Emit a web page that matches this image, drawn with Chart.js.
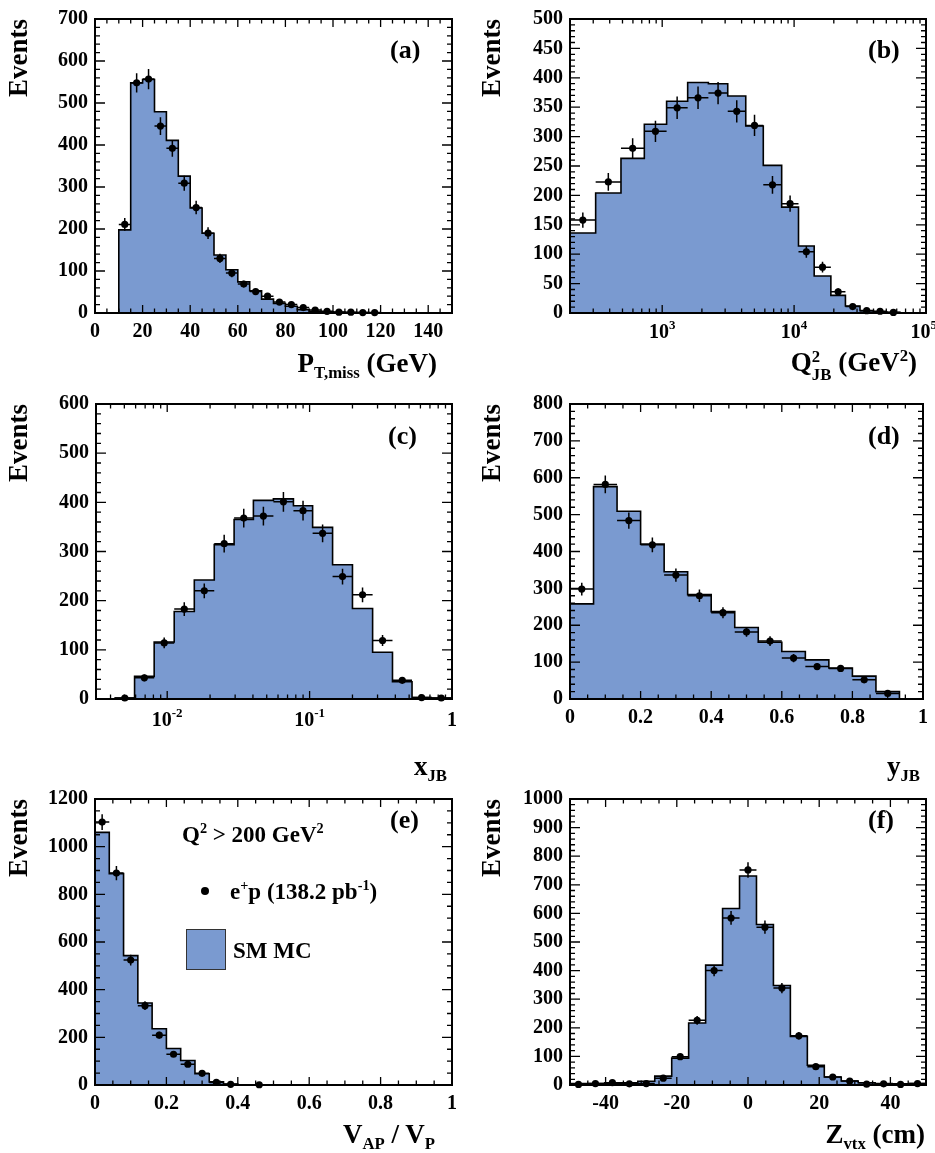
<!DOCTYPE html>
<html lang="en">
<head>
<meta charset="UTF-8">
<title>Control distributions</title>
<script src="https://cdn.jsdelivr.net/npm/chart.js@4.4.0/dist/chart.umd.min.js"></script>
<style>
  body { margin: 0; background: #fff; }
  #page { position: relative; width: 935px; height: 1153px; overflow: hidden;
          font-family: 'Liberation Serif', 'Times New Roman', serif; font-weight: bold; color: #000; }
  canvas { position: absolute; }
  .t { position: absolute; white-space: nowrap; line-height: 1; font-size: 27px; }
  .lab { position: absolute; white-space: nowrap; line-height: 1; font-size: 26px; }
  .t sub, .lab sub { font-size: 0.62em; line-height: 0; vertical-align: -0.35em; }
  .t sup, .lab sup { font-size: 0.62em; line-height: 0; vertical-align: 0.6em; }
  .ss { display: inline-block; vertical-align: -0.5em; font-size: 0.62em; line-height: 1.05; }
  .ss span { display: block; }
</style>
</head>
<body>
<div id="page">
  <canvas id="ca" width="467" height="385" style="left:0;top:0"></canvas>
  <canvas id="cb" width="468" height="385" style="left:467px;top:0"></canvas>
  <canvas id="cc" width="467" height="395" style="left:0;top:385px"></canvas>
  <canvas id="cd" width="468" height="395" style="left:467px;top:385px"></canvas>
  <canvas id="ce" width="467" height="373" style="left:0;top:780px"></canvas>
  <canvas id="cf" width="468" height="373" style="left:467px;top:780px"></canvas>

  <div class="t" style="right:498px;top:350px">P<sub>T,miss</sub> (GeV)</div>
  <div class="t" style="right:18px;top:348px">Q<span class="ss"><span>2</span><span>JB</span></span> (GeV<sup>2</sup>)</div>
  <div class="t" style="right:488px;top:753px">x<sub>JB</sub></div>
  <div class="t" style="right:15px;top:753px">y<sub>JB</sub></div>
  <div class="t" style="right:500px;top:1121px">V<sub>AP</sub> / V<sub>P</sub></div>
  <div class="t" style="right:10px;top:1121px">Z<sub>vtx</sub> (cm)</div>

  <div class="lab" style="left:390px;top:37px">(a)</div>
  <div class="lab" style="left:868px;top:37px">(b)</div>
  <div class="lab" style="left:388px;top:423px">(c)</div>
  <div class="lab" style="left:868px;top:423px">(d)</div>
  <div class="lab" style="left:390px;top:807px">(e)</div>
  <div class="lab" style="left:868px;top:807px">(f)</div>

  <div class="lab" style="left:182px;top:823px;font-size:23px">Q<sup>2</sup> &gt; 200 GeV<sup>2</sup></div>
  <div style="position:absolute;left:201px;top:887px;width:8px;height:8px;border-radius:50%;background:#000"></div>
  <div class="lab" style="left:230px;top:880px;font-size:23px">e<sup>+</sup>p (138.2 pb<sup>-1</sup>)</div>
  <div style="position:absolute;left:186px;top:929px;width:38px;height:39px;background:#7a9ad0;border:1px solid #333"></div>
  <div class="lab" style="left:233px;top:939px;font-size:23px">SM MC</div>
</div>
<script>
// (a) missing transverse momentum, GeV
var ptEdges = [10,15,20,25,30,35,40,45,50,55,60,65,70,75,80,85,90,95,100,105,110,115,120];
var ptMC    = [198,548,556,479,411,326,250,190,138,103,74,53,33,23,16,8,4,3,2,1,1,0.5];
var ptData  = [211,548,557,445,392,309,251,190,130,95,69,51,40,26,20,13,7,4,2,2,1,1];
var ptErr   = [15,23,24,21,20,18,16,14,11,10,8,7,6,5,4,4,3,2,1,1,1,1];

// (b) Q2_JB, GeV^2
var q2Edges = [200,313,487,732,1080,1560,2240,3140,4300,5840,8050,10800,14200,19000,24500,31600,39900,50400,63500];
var q2MC    = [136,204,263,321,360,392,390,369,318,251,180,114,63,30,12,4,2,1];
var q2Data  = [158,223,280,309,349,366,374,343,319,218,186,104,78,36,11,4,3,1];
var q2Err   = [13,15,17,18,19,19,19,19,18,15,14,10,9,6,3,2,2,1];

// (c) x_JB
var xEdges = [0.0043,0.0059,0.0081,0.0112,0.0155,0.0214,0.0295,0.0403,0.0557,0.077,0.105,0.145,0.2,0.277,0.382,0.524,0.714,0.99];
var xMC    = [2,46,116,178,242,314,365,404,407,393,349,273,184,95,35,3,2];
var xData  = [2,43,114,183,220,316,368,372,401,383,337,249,212,119,38,3,2];
var xErr   = [1,7,11,14,15,18,19,19,20,20,18,16,15,11,6,2,1];

// (d) y_JB
var yEdges = [0,0.0667,0.1333,0.2,0.2667,0.3333,0.4,0.4667,0.5333,0.6,0.6667,0.7333,0.8,0.8667,0.9333];
var yMC    = [258,576,509,420,345,283,237,194,154,129,106,84,62,20];
var yData  = [298,582,484,418,336,280,234,182,157,111,88,83,52,15];
var yErr   = [17,24,22,20,18,17,15,13,13,11,9,9,7,4];

// (e) V_AP / V_P
var vEdges = [0,0.04,0.08,0.12,0.16,0.2,0.24,0.28,0.32,0.36,0.4,0.44,0.48];
var vMC    = [1060,887,543,344,236,153,103,47,13,4,0,0];
var vData  = [1103,889,524,333,209,129,87,49,11,3,null,1];
var vErr   = [33,30,23,18,14,11,9,7,3,2,null,1];

// (f) Z_vtx, cm
var zEdges = [-50,-45.24,-40.48,-35.71,-30.95,-26.19,-21.43,-16.67,-11.9,-7.14,-2.38,2.38,7.14,11.9,16.67,21.43,26.19,30.95,35.71,40.48,45.24,50];
var zMC    = [5,5,5,8,13,31,94,217,419,617,731,561,348,170,69,28,14,8,5,4,5];
var zData  = [2,5,8,4,5,24,99,226,400,584,752,552,339,172,64,28,14,3,4,2,5];
var zErr   = [1,2,3,2,2,5,10,15,20,24,27,23,18,13,8,5,4,2,2,1,2];

var FILL = '#7a9ad0';
var FONT = "'Liberation Serif', 'Times New Roman', serif";

// histogram outline as a stepped line
function histLine(edges, vals) {
  var pts = [{x: edges[0], y: 0}];
  for (var i = 0; i < vals.length; i++) pts.push({x: edges[i], y: vals[i]});
  pts.push({x: edges[vals.length], y: 0});
  return pts;
}

function dataPts(edges, vals, errs, logx) {
  var pts = [];
  for (var i = 0; i < vals.length; i++) {
    if (vals[i] == null) continue;
    var lo = edges[i], hi = edges[i + 1];
    var c = logx ? Math.sqrt(lo * hi) : (lo + hi) / 2;
    pts.push({x: c, y: vals[i], lo: lo, hi: hi, e: errs[i]});
  }
  return pts;
}

function onStep(v, step) {
  var q = v / step;
  return Math.abs(q - Math.round(q)) < 1e-6;
}

// ROOT-ish frame: ticks inside on all four sides, error bars, log labels
var rootFrame = {
  id: 'rootFrame',
  beforeDatasetDraw: function(chart, args) {
    if (args.index !== 0) return;
    var ctx = chart.ctx, sx = chart.scales.x, sy = chart.scales.y;
    ctx.save();
    ctx.strokeStyle = '#000';
    ctx.lineWidth = 1.5;
    ctx.beginPath();
    chart.data.datasets[0].data.forEach(function(p) {
      var px = sx.getPixelForValue(p.x), py = sy.getPixelForValue(p.y);
      ctx.moveTo(sx.getPixelForValue(p.lo), py);
      ctx.lineTo(sx.getPixelForValue(p.hi), py);
      ctx.moveTo(px, sy.getPixelForValue(Math.max(0, p.y - p.e)));
      ctx.lineTo(px, sy.getPixelForValue(p.y + p.e));
    });
    ctx.stroke();
    ctx.restore();
  },
  afterDraw: function(chart, args, o) {
    var ctx = chart.ctx, a = chart.chartArea, sx = chart.scales.x, sy = chart.scales.y;
    ctx.save();
    ctx.strokeStyle = '#000';
    ctx.lineWidth = 1.3;
    ctx.beginPath();
    function xt(v, major) {
      var px = sx.getPixelForValue(v), len = major ? 8 : 4.5;
      ctx.moveTo(px, a.bottom); ctx.lineTo(px, a.bottom - len);
      ctx.moveTo(px, a.top); ctx.lineTo(px, a.top + len);
    }
    if (o.logx) {
      var n0 = Math.floor(Math.log10(sx.min)), n1 = Math.ceil(Math.log10(sx.max));
      for (var n = n0; n <= n1; n++) {
        for (var k = 1; k < 10; k++) {
          var v = k * Math.pow(10, n);
          if (v < sx.min * 0.999 || v > sx.max * 1.001) continue;
          xt(v, k === 1);
        }
      }
    } else {
      var s = Math.ceil(sx.min / o.xMin - 1e-9);
      for (var i = s; i * o.xMin <= sx.max + 1e-9; i++) {
        xt(i * o.xMin, onStep(i * o.xMin, o.xMaj));
      }
    }
    for (var j = 0; j * o.yMin <= sy.max + 1e-9; j++) {
      var vy = j * o.yMin;
      var py = sy.getPixelForValue(vy), len = onStep(vy, o.yMaj) ? 10 : 5;
      ctx.moveTo(a.left, py); ctx.lineTo(a.left + len, py);
      ctx.moveTo(a.right, py); ctx.lineTo(a.right - len, py);
    }
    ctx.stroke();
    ctx.lineWidth = 2;
    ctx.strokeRect(a.left, a.top, a.right - a.left, a.bottom - a.top);

    if (o.logx) {
      ctx.fillStyle = '#000';
      ctx.textBaseline = 'alphabetic';
      var base = a.bottom + o.labelDy;
      for (var m = Math.ceil(Math.log10(sx.min)); m <= Math.floor(Math.log10(sx.max) + 1e-9); m++) {
        var lx = sx.getPixelForValue(Math.pow(10, m));
        ctx.font = 'bold 20px ' + FONT;
        if (m === 0) {
          ctx.textAlign = 'center';
          ctx.fillText('1', lx, base);
          continue;
        }
        ctx.textAlign = 'left';
        var w1 = ctx.measureText('10').width;
        ctx.font = 'bold 13px ' + FONT;
        var ex = String(m), w2 = ctx.measureText(ex).width;
        var x0 = Math.min(lx - (w1 + w2) / 2, chart.width - w1 - w2 + 2);
        ctx.fillText(ex, x0 + w1, base - 9);
        ctx.font = 'bold 20px ' + FONT;
        ctx.fillText('10', x0, base);
      }
    }
    ctx.restore();
  }
};
Chart.register(rootFrame);

function panel(id, c) {
  var tickFont = {family: FONT, size: 20, weight: 'bold'};
  return new Chart(document.getElementById(id), {
    type: 'line',
    data: {
      datasets: [{
        data: dataPts(c.edges, c.data, c.err, c.logx),
        showLine: false,
        pointRadius: 3.6,
        pointBackgroundColor: '#000',
        pointBorderWidth: 0,
        clip: false
      }, {
        data: histLine(c.edges, c.mc),
        stepped: true,
        fill: 'origin',
        backgroundColor: FILL,
        borderColor: '#000',
        borderWidth: 1.6,
        pointRadius: 0
      }]
    },
    options: {
      responsive: false,
      animation: false,
      events: [],
      layout: {padding: {left: 0, right: c.rp, top: c.tp, bottom: 0}},
      plugins: {
        legend: {display: false},
        tooltip: {enabled: false},
        rootFrame: {logx: c.logx, xMaj: c.xMaj, xMin: c.xMin, yMaj: c.yMaj, yMin: c.yMin, labelDy: c.labelDy}
      },
      scales: {
        x: {
          type: c.logx ? 'logarithmic' : 'linear',
          min: c.xRange[0], max: c.xRange[1],
          grid: {display: false, drawTicks: false},
          border: {display: false},
          ticks: {display: !c.logx, stepSize: c.xMin, includeBounds: false, autoSkip: false,
                  maxRotation: 0, padding: 7, color: '#000', font: tickFont,
                  callback: function(v) { return onStep(v, c.xMaj) ? String(Math.round(v * 1000) / 1000) : ''; }},
          afterFit: function(s) { s.height = c.xh; }
        },
        y: {
          min: 0, max: c.yMax,
          grid: {display: false, drawTicks: false},
          border: {display: false},
          ticks: {stepSize: c.yMaj, autoSkip: false, padding: 7, color: '#000', font: tickFont,
                  callback: function(v) { return String(v); }},
          title: {display: true, text: 'Events', align: 'end', color: '#000',
                  font: {family: FONT, size: 27, weight: 'bold'}, padding: {top: c.tpad, bottom: 0}},
          afterFit: function(s) { s.width = c.yw; }
        }
      }
    }
  });
}

panel('ca', {edges: ptEdges, mc: ptMC, data: ptData, err: ptErr, xRange: [0, 150], xMaj: 20, xMin: 5,
  yMax: 700, yMaj: 100, yMin: 20, yw: 95, rp: 15, tp: 13, xh: 72, tpad: 4});
panel('cb', {edges: q2Edges, mc: q2MC, data: q2Data, err: q2Err, logx: true, xRange: [200, 100000], labelDy: 25,
  yMax: 500, yMaj: 50, yMin: 10, yw: 103, rp: 9, tp: 13, xh: 72, tpad: 10});
panel('cc', {edges: xEdges, mc: xMC, data: xData, err: xErr, logx: true, xRange: [0.003162, 1], labelDy: 27,
  yMax: 600, yMaj: 100, yMin: 20, yw: 96, rp: 15, tp: 13, xh: 81, tpad: 4});
panel('cd', {edges: yEdges, mc: yMC, data: yData, err: yErr, xRange: [0, 1], xMaj: 0.2, xMin: 0.05,
  yMax: 800, yMaj: 100, yMin: 20, yw: 103, rp: 8, tp: 13, xh: 81, tpad: 10});
panel('ce', {edges: vEdges, mc: vMC, data: vData, err: vErr, xRange: [0, 1], xMaj: 0.2, xMin: 0.05,
  yMax: 1200, yMaj: 200, yMin: 50, yw: 95, rp: 15, tp: 5, xh: 68, tpad: 4});
panel('cf', {edges: zEdges, mc: zMC, data: zData, err: zErr, xRange: [-50, 50], xMaj: 20, xMin: 5,
  yMax: 1000, yMaj: 100, yMin: 20, yw: 103, rp: 9, tp: 5, xh: 68, tpad: 10});
</script>
</body>
</html>
